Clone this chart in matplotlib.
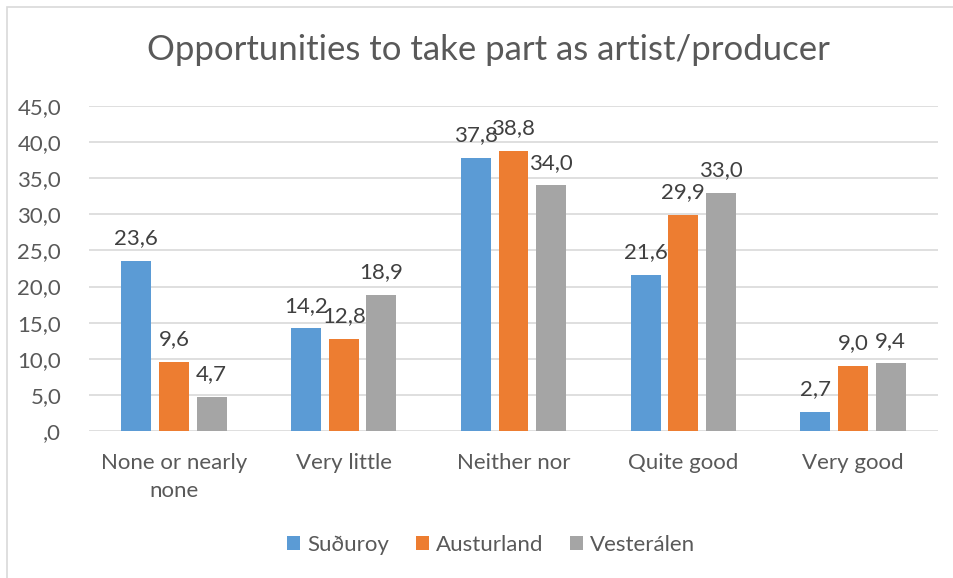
import matplotlib
matplotlib.use("Agg")
import matplotlib.pyplot as plt
from matplotlib.patches import Rectangle
import numpy as np

categories = ["None or nearly\nnone", "Very little", "Neither nor", "Quite good", "Very good"]
series_names = ["Suðuroy", "Austurland", "Vesterálen"]
suduroy = [23.6, 14.2, 37.8, 21.6, 2.7]
austurland = [9.6, 12.8, 38.8, 29.9, 9.0]
vesteralen = [4.7, 18.9, 34.0, 33.0, 9.4]
y_ticks = [0, 5, 10, 15, 20, 25, 30, 35, 40, 45]
title = "Opportunities to take part as artist/producer"

colors = ["#5B9BD5", "#ED7D31", "#A5A5A5"]
text_color = "#595959"
label_color = "#404040"

plt.rcParams["font.family"] = ["Lato", "DejaVu Sans"]

fig = plt.figure(figsize=(9.54, 5.78), dpi=100)
ax = fig.add_axes([89 / 954, 1 - 431 / 578, (938 - 89) / 954, (431 - 106) / 578])

# chart frame
fig.patches.append(Rectangle((7 / 954, -0.1), 1.2, 1 - 7 / 578 + 0.1,
                             transform=fig.transFigure, fill=False,
                             edgecolor="#d9d9d9", linewidth=1.2))

x = np.arange(len(categories))
width = 0.176
step = 0.222
for i, (vals, col) in enumerate(zip([suduroy, austurland, vesteralen], colors)):
    pos = x + (i - 1) * step
    bars = ax.bar(pos, vals, width=width, color=col, label=series_names[i], zorder=3)
    for b, v in zip(bars, vals):
        ax.annotate(f"{v:.1f}".replace(".", ","), (b.get_x() + b.get_width() / 2, v),
                    xytext=(0, 9), textcoords="offset points", ha="center", va="bottom",
                    fontsize=16, color=label_color)

ax.set_xlim(-0.5, len(categories) - 0.5)
ax.set_ylim(0, 45)
ax.set_yticks(y_ticks)
ax.set_yticklabels([(f"{t:.1f}".replace(".", ",") if t != 0 else ",0") for t in y_ticks])
ax.set_xticks(x)
ax.set_xticklabels(categories, linespacing=1.5)
ax.tick_params(axis="both", length=0, labelsize=16, colors=text_color)
ax.tick_params(axis="x", pad=16)
ax.tick_params(axis="y", pad=20)
ax.grid(axis="y", color="#d9d9d9", linewidth=1.2, zorder=0)
for s in ax.spines.values():
    s.set_visible(False)

fig.text(488 / 954, 1 - 50 / 578, title, ha="center", va="center", fontsize=25, color=text_color)

leg = fig.legend(loc="center", bbox_to_anchor=(491 / 954, 1 - 545 / 578), ncol=3, frameon=False,
                 fontsize=16, handlelength=0.6, handleheight=0.6, handletextpad=0.3,
                 columnspacing=1.2)
for t in leg.get_texts():
    t.set_color(text_color)

fig.savefig("out.png", dpi=100)
